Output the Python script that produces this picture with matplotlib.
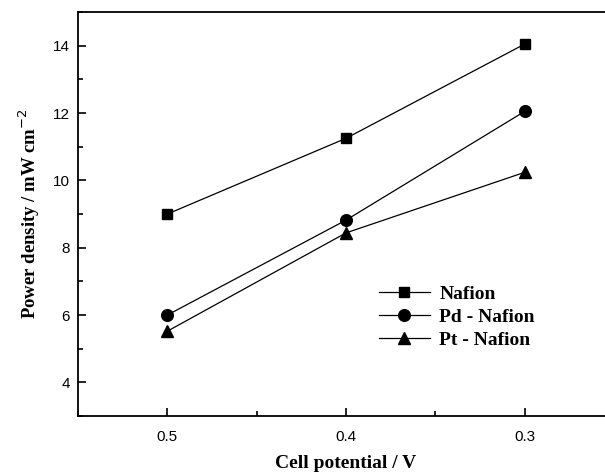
import matplotlib
matplotlib.use("Agg")
import matplotlib.pyplot as plt
from matplotlib.ticker import MultipleLocator

potential = [0.5, 0.4, 0.3]
nafion = [9.0, 11.25, 14.05]
pd_nafion = [6.0, 8.82, 12.05]
pt_nafion = [5.52, 8.44, 10.24]

fig = plt.figure(figsize=(6.05, 4.73), dpi=100)
ax = fig.add_axes([0.129, 0.1205, 0.886, 0.854])

ax.plot(potential, nafion, color='black', lw=0.9, marker='s', ms=6.8, label='Nafion')
ax.plot(potential, pd_nafion, color='black', lw=0.9, marker='o', ms=8.4, label='Pd - Nafion')
ax.plot(potential, pt_nafion, color='black', lw=0.9, marker='^', ms=8.5, label='Pt - Nafion')

ax.set_xlim(0.55, 0.25)
ax.set_ylim(3, 15)
ax.set_xticks(potential)
ax.set_xticklabels(['0.5', '0.4', '0.3'])
ax.xaxis.set_minor_locator(MultipleLocator(0.05))
ax.yaxis.set_minor_locator(MultipleLocator(1))
ax.set_yticks([4, 6, 8, 10, 12, 14])

ax.tick_params(which='both', direction='in', top=False, right=False, width=1.2)
ax.tick_params(which='major', length=5.5, labelsize=11)
ax.tick_params(which='minor', length=3.5)
ax.tick_params(axis='x', which='major', pad=10)
ax.tick_params(axis='y', which='major', pad=6)
for lab in ax.get_xticklabels() + ax.get_yticklabels():
    lab.set_family('Liberation Sans')
for s in ax.spines.values():
    s.set_linewidth(1.3)

ax.set_xlabel('Cell potential / V', family='Liberation Serif', fontweight='bold',
              fontsize=14, labelpad=8)
ax.set_ylabel('Power density / mW cm$^{-2}$', family='Liberation Serif',
              fontweight='bold', fontsize=13.5, labelpad=8)

ax.legend(loc='upper left', bbox_to_anchor=(0.5616, 0.324), frameon=False,
          prop={'family': 'Liberation Serif', 'weight': 'bold', 'size': 14},
          handlelength=2.6, labelspacing=0.28, handletextpad=0.5,
          borderpad=0, borderaxespad=0)

fig.savefig('out.png', dpi=100)
